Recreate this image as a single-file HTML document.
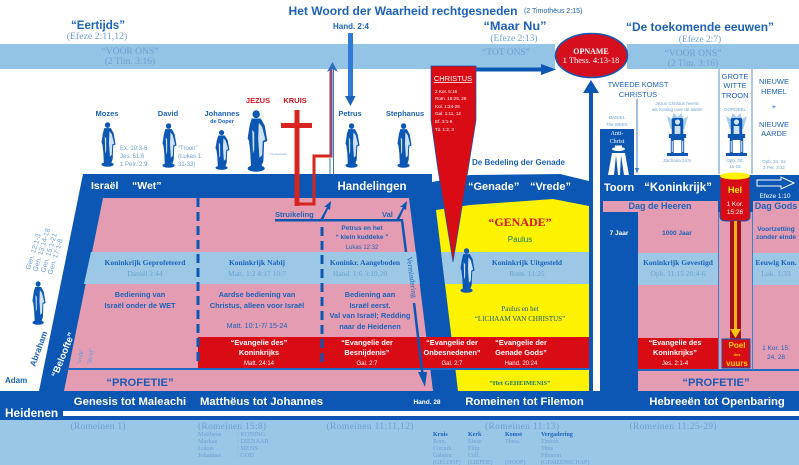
<!DOCTYPE html>
<html><head><meta charset="utf-8"><style>
html,body{margin:0;padding:0;background:#fff;width:799px;height:465px;overflow:hidden}
svg{display:block}
text{font-family:"Liberation Sans",sans-serif}
.s{font-family:"Liberation Serif",serif}
.b{font-weight:bold}
.m{text-anchor:middle}
.w{fill:#fff}
.t{fill:#1c62b9}
.l{fill:#6d9fd0}
</style></head><body>
<svg width="799" height="465" viewBox="0 0 799 465" xmlns="http://www.w3.org/2000/svg">
<defs>
<symbol id="st" viewBox="0 0 16 44" preserveAspectRatio="none">
<ellipse cx="7" cy="41.5" rx="6.5" ry="2.3" fill="#0b57b3"/>
<circle cx="7" cy="3" r="2.8" fill="#0b57b3"/>
<path d="M3.5 6 L10.5 6 L13.5 11 L15.5 22 L13 23 L12.5 36 L11 40 L3 40 L2.5 30 L1.5 22 L0.5 20 L2 11Z" fill="#0b57b3"/>
<path d="M9 9 L11.5 12 L14 21 L12 22 L11.5 32 L9.5 34 L8.5 20Z M4 14 L5.5 16 L5.5 28 L4.5 31Z" fill="#cfe2f5"/>
</symbol>
<symbol id="th" viewBox="0 0 24 44" preserveAspectRatio="none">
<path d="M5 16 L1 3 L6 6 L8 0 L12 4 L16 0 L18 6 L23 3 L19 16Z" fill="#a9cdec"/>
<rect x="6" y="5" width="12" height="20" rx="2" fill="#0b57b3"/>
<circle cx="12" cy="9" r="2.6" fill="#d7e6f5"/>
<path d="M9 13 H15 V23 H9Z" fill="#cfe2f5"/>
<path d="M3 21 H21 V25 H19 V40 H16 V27 H8 V40 H5 V25 H3Z" fill="#0b57b3"/>
<path d="M6 28 H7 V39 H6Z M17 28 H18 V39 H17Z" fill="#fff"/>
<rect x="1" y="40" width="22" height="3" fill="#0b57b3"/>
</symbol>
</defs>

<rect width="799" height="465" fill="#fff"/>
<!-- top band -->
<rect x="0" y="44" width="799" height="25" fill="#93c4e5"/>
<rect x="555" y="44" width="72" height="26" fill="#fff"/>

<!-- main left block -->
<polygon points="83,174 432,174 432,182 448,315 458,391 39,391" fill="#0b57b3"/>
<polygon points="103,198 409,198 433,391 64,391" fill="#e49cb2"/>
<!-- genade -->
<polygon points="432,182 470,175 560,174 589,181 593,181 593,391 440,391 432,200" fill="#0b57b3"/>
<polygon points="436,210 470,205 553,199 589,206 589,391 458,391" fill="#fdf200"/>
<rect x="593" y="176" width="7" height="216" fill="#fff"/>

<!-- right block -->
<rect x="600" y="129" width="34" height="46" fill="#0b57b3"/>
<rect x="600" y="175" width="199" height="216" fill="#0b57b3"/>
<rect x="603" y="201" width="115" height="11" fill="#e49cb2"/>
<rect x="753" y="201" width="46" height="11" fill="#e49cb2"/>
<rect x="638" y="212" width="80" height="158" fill="#e49cb2"/>
<rect x="719" y="212" width="33" height="158" fill="#e49cb2"/>
<rect x="753" y="212" width="46" height="158" fill="#e49cb2"/>
<rect x="638" y="370" width="161" height="21" fill="#e49cb2"/>

<!-- light blue row -->
<polygon points="91,252 416,252 420,284 84,284" fill="#9cc8e6"/>
<polygon points="441,252 589,252 589,284 445,284" fill="#9cc8e6"/>
<rect x="638" y="253" width="80" height="32" fill="#9cc8e6"/>
<rect x="753" y="253" width="46" height="32" fill="#9cc8e6"/>

<!-- red rows -->
<rect x="198" y="337" width="391" height="31" fill="#d90b14"/>
<rect x="638" y="338" width="80" height="31" fill="#d90b14"/>
<rect x="68" y="368" width="521" height="2" fill="#1c6ac4"/>
<rect x="638" y="369" width="161" height="2" fill="#1c6ac4"/>

<!-- dashes -->
<line x1="198" y1="198" x2="198" y2="361" stroke="#0b57b3" stroke-width="3" stroke-dasharray="9 5"/>
<line x1="322" y1="227" x2="322" y2="362" stroke="#0b57b3" stroke-width="3" stroke-dasharray="9 5"/>

<!-- bottom bands -->
<rect x="0" y="391" width="799" height="29" fill="#0b57b3"/>
<rect x="63" y="411" width="736" height="5" fill="#fff"/>
<rect x="0" y="420" width="799" height="45" fill="#9ac7e8"/>

<!-- verticals top -->
<line x1="719" y1="69" x2="719" y2="174" stroke="#5b93d2" stroke-width="1"/>
<line x1="752" y1="69" x2="752" y2="174" stroke="#5b93d2" stroke-width="1"/>
<line x1="718.5" y1="212" x2="718.5" y2="370" stroke="#3f7fc9" stroke-width="1"/>
<line x1="752.5" y1="212" x2="752.5" y2="370" stroke="#3f7fc9" stroke-width="1"/>
<line x1="637" y1="99" x2="637" y2="172" stroke="#3f7fc9" stroke-width="1"/>
<polygon points="635,168 639,168 637,174" fill="#3f7fc9"/>

<!-- Hel column -->
<path d="M720 176 H750 V216 Q750 221 744 221 H726 Q720 221 720 216Z" fill="#d90b14" stroke="#0b57b3"/>
<ellipse cx="735" cy="176" rx="15" ry="3.5" fill="#fdf200"/>
<rect x="730" y="221" width="11" height="118" fill="#a80f1a"/>
<rect x="734" y="221" width="3" height="110" fill="#f6b50c"/>
<polygon points="730,329 741,329 735.5,338" fill="#f6c50c"/>
<rect x="722" y="339" width="28" height="29" fill="#d90b14" stroke="#0b57b3"/>

<!-- red Christus -->
<polygon points="431,66 476,66 476,120 468,170 453,262 438,170 431,120" fill="#d90b14" stroke="#0b57b3" stroke-width="0.7"/>
<!-- arrow to opname -->
<rect x="476" y="67.5" width="66" height="4" fill="#0b57b3"/>
<polygon points="541,64 556,69.5 541,75" fill="#0b57b3"/>
<!-- arrow up to opname -->
<rect x="589" y="92" width="4" height="90" fill="#0b57b3"/>
<polygon points="583,93 599,93 591,80" fill="#0b57b3"/>
<ellipse cx="591.5" cy="55.5" rx="36" ry="22" fill="#d50f1e" stroke="#1359b5" stroke-width="1.5"/>

<!-- Hand 2:4 arrow -->
<rect x="348" y="33" width="5" height="64" fill="#2f7ad6"/>
<polygon points="345,96 355.5,96 350.5,106" fill="#1c62b9"/>

<!-- cross + red path -->
<rect x="294.5" y="110" width="5" height="96" fill="#d8241e"/>
<rect x="281" y="123" width="31" height="5" fill="#d8241e"/>
<path d="M297 204 H314 V156 H331 V68" fill="none" stroke="#d8241e" stroke-width="3"/>
<path d="M331 156 V68" fill="none" stroke="#8d4a6b" stroke-width="3"/>
<line x1="333.5" y1="68" x2="333.5" y2="174" stroke="#0b57b3" stroke-width="0.8"/>
<line x1="330" y1="158" x2="330" y2="174" stroke="#0b57b3" stroke-width="0.8"/>
<polygon points="327,72 332.5,62 338,72 332.5,69" fill="#2f6fc0"/>

<!-- struikeling line & arrows -->
<rect x="275" y="219" width="128" height="2.5" fill="#0b57b3"/>
<path d="M320 220 L327 207 L324 207 L331 201 L330 210 L328 209 L323 220Z" fill="#0b57b3"/>
<path d="M396 220 L403 207 L400 207 L407 201 L406 210 L404 209 L399 220Z" fill="#0b57b3"/>
<line x1="402" y1="220" x2="406" y2="252" stroke="#0b57b3" stroke-width="2.5"/>
<line x1="414" y1="303" x2="423" y2="378" stroke="#0b57b3" stroke-width="2.5"/>
<polygon points="418,372 427,372 425,387" fill="#0b57b3"/>

<!-- statues -->
<use href="#st" x="101" y="122" width="15" height="45"/>
<use href="#st" x="162" y="123" width="15" height="45"/>
<use href="#st" x="215" y="130" width="15" height="40"/>
<use href="#st" x="247" y="110" width="21" height="62"/>
<use href="#st" x="345" y="123" width="15" height="45"/>
<use href="#st" x="397" y="123" width="15" height="45"/>
<use href="#st" x="32" y="281" width="14" height="44"/>
<use href="#st" x="460" y="248" width="15" height="45"/>
<use href="#th" x="666" y="113" width="23" height="44"/>
<use href="#th" x="725" y="113" width="23" height="44"/>
<!-- anti-christ figure -->
<ellipse cx="618.5" cy="149" rx="6.5" ry="2" fill="#fff"/>
<rect x="615" y="145.5" width="7" height="3.5" fill="#fff"/>
<path d="M612 153 H625 L629 175 H608Z" fill="#fff"/>
<path d="M616 155 L618 175 H614Z M621 155 L624 175 H620Z" fill="#0b57b3"/>

<!-- Big outline arrow -->
<polygon points="757,180 781,180 781,177 794,183 781,189 781,186 757,186" fill="#0b57b3" stroke="#fff" stroke-width="1"/>

<!-- Top text -->
<text x="403" y="15" class="b m t" font-size="12" textLength="229" lengthAdjust="spacingAndGlyphs">Het Woord der Waarheid rechtgesneden</text>
<text x="524" y="13" class="t" font-size="7">(2 Timothëus 2:15)</text>
<text x="98" y="29" class="b m t" font-size="12" textLength="54" lengthAdjust="spacingAndGlyphs">“Eertijds”</text>
<text x="97" y="39" class="s m l" font-size="9.8">(Efeze 2:11,12)</text>
<text x="130" y="54" class="s m l" font-size="9.5">“VOOR ONS”</text>
<text x="130" y="64" class="s m l" font-size="9.5">(2 Tim. 3:16)</text>
<text x="351" y="29" class="b m t" font-size="8">Hand. 2:4</text>
<text x="515" y="30" class="b m t" font-size="12" textLength="63" lengthAdjust="spacingAndGlyphs">“Maar Nu”</text>
<text x="514" y="41" class="s m l" font-size="9.5">(Efeze 2:13)</text>
<text x="506" y="55" class="s m l" font-size="9.5">“TOT ONS”</text>
<text x="591" y="54" class="s b m w" font-size="8">OPNAME</text>
<text x="591" y="63" class="s m w" font-size="8.5">1 Thess. 4:13-18</text>
<text x="700" y="31" class="b m t" font-size="12" textLength="148" lengthAdjust="spacingAndGlyphs">“De toekomende eeuwen”</text>
<text x="700" y="42" class="s m l" font-size="9.5">(Efeze 2:7)</text>
<text x="693" y="56" class="s m l" font-size="9.5">“VOOR ONS”</text>
<text x="693" y="66" class="s m l" font-size="9.5">(2 Tim. 3:16)</text>

<g class="t" font-size="7.5">
<text x="735" y="79" class="m t" >GROTE</text><text x="735" y="88" class="m t">WITTE</text><text x="735" y="98" class="m t">TROON</text>
<text x="774" y="84" class="m t">NIEUWE</text><text x="774" y="94" class="m t">HEMEL</text><text x="774" y="109" class="m t">+</text>
<text x="774" y="127" class="m t">NIEUWE</text><text x="774" y="136" class="m t">AARDE</text>
<text x="638" y="87" class="m t">TWEEDE KOMST</text><text x="638" y="97" class="m t">CHRISTUS</text>
</g>
<text x="774" y="163" class="m l" font-size="4.5">Opb. 21; 22</text>
<text x="774" y="169" class="m l" font-size="4.5">2 Pet. 3:12</text>
<text x="677" y="105" class="m l" font-size="4.5">Jezus Christus heerst</text>
<text x="677" y="111" class="m l" font-size="4.5">als Koning over de aarde</text>
<text x="617" y="119" class="m l" font-size="4.5">DANIEL</text>
<text x="617" y="126" class="m l" font-size="4.5">70e WEEK</text>
<text x="617" y="135" class="s m w" font-size="6">Anti-</text>
<text x="617" y="143" class="s m w" font-size="6">Christ</text>
<text x="735" y="111" class="m l" font-size="4.5">OORDEEL</text>
<text x="677" y="162" class="m l" font-size="4.5">Zacharia 14:9</text>
<text x="735" y="162" class="m l" font-size="4.5">Opb. 20:</text>
<text x="735" y="168" class="m l" font-size="4.5">11-15</text>

<text x="472" y="165" class="b t" font-size="8" textLength="93" lengthAdjust="spacingAndGlyphs">De Bedeling der Genade</text>
<text x="453" y="81" class="m w" font-size="7.5" text-decoration="underline">CHRISTUS</text>
<g font-size="4.6">
<text x="435" y="93" class="w">2 Kor. 5:16</text>
<text x="435" y="100" class="w">Rom. 16:25, 26</text>
<text x="435" y="108" class="w">Kol. 1:24-26</text>
<text x="435" y="115" class="w">Gal. 1:11, 12</text>
<text x="435" y="123" class="w">Ef. 3:1-9</text>
<text x="435" y="131" class="w">Tit. 1:2, 3</text>
</g>

<!-- names -->
<g font-size="7.5" font-weight="bold">
<text x="107" y="116" class="m t">Mozes</text>
<text x="168" y="116" class="m t">David</text>
<text x="222" y="116" class="m t">Johannes</text>
<text x="350" y="116" class="m t">Petrus</text>
<text x="405" y="116" class="m t">Stephanus</text>
<text x="258" y="103" class="m" fill="#d8141c">JEZUS</text>
<text x="295" y="103" class="m" fill="#d8141c">KRUIS</text>
</g>
<text x="222" y="123" class="b m t" font-size="5.5">de Doper</text>
<g font-size="6">
<text x="120" y="150" class="l">Ex. 19:3-6</text><text x="120" y="158" class="l">Jes. 61:6</text><text x="120" y="166" class="l">1 Petr. 2:9</text>
<text x="178" y="150" class="l">“Troon”</text><text x="178" y="158" class="l">(Lukas 1:</text><text x="178" y="166" class="l">31-33)</text>
</g>
<text x="270" y="155" class="l" font-size="3">11 Apostelen</text>

<!-- bars -->
<g font-weight="bold" font-size="10.5">
<text x="91" y="189" class="w">Israël</text>
<text x="132" y="189" class="w">“Wet”</text>
<text x="372" y="190" class="m w" font-size="11.5">Handelingen</text>
<text x="468" y="190" class="w" font-size="11">“Genade”</text>
<text x="530" y="190" class="w" font-size="11">“Vrede”</text>
<text x="619" y="191" class="m w" font-size="11">Toorn</text>
<text x="678" y="191" class="m w" font-size="11.5">“Koninkrijk”</text>
</g>
<text x="735" y="193" class="b m" fill="#fdf200" font-size="9">Hel</text>
<text x="735" y="206" class="m w" font-size="6.5">1 Kor.</text>
<text x="735" y="214" class="m w" font-size="6.5">15:26</text>
<text x="775" y="198" class="m w" font-size="6.5">Efeze 1:10</text>
<text x="660" y="209" class="b m t" font-size="9">Dag de Heeren</text>
<text x="776" y="209" class="b m t" font-size="9">Dag Gods</text>
<text x="275" y="217" class="b t" font-size="7.5">Struikeling</text>
<text x="382" y="217" class="b t" font-size="7.5">Val</text>
<text x="362" y="230" class="b m t" font-size="6.5">Petrus en het</text>
<text x="362" y="239" class="b m t" font-size="6.5">“ klein kuddeke ”</text>
<text x="362" y="249" class="m t" font-size="6">Lukas 12:32</text>
<text transform="translate(407,257) rotate(83)" class="s t" font-size="7.5">Vermindering</text>

<!-- row texts -->
<g font-size="7.5" font-weight="bold">
<text x="145" y="265" class="s m t">Koninkrijk Geprofeteerd</text>
<text x="257" y="265" class="s m t">Koninkrijk Nabij</text>
<text x="365" y="265" class="s m t">Koninkr. Aangeboden</text>
<text x="527" y="265" class="s m t">Koninkrijk Uitgesteld</text>
<text x="678" y="265" class="s m t">Koninkrijk Gevestigd</text>
<text x="776" y="265" class="s m t">Eeuwig Kon.</text>
</g>
<g font-size="7.5">
<text x="145" y="276" class="s m l">Daniël 2:44</text>
<text x="257" y="276" class="s m l">Matt. 1:2  4:17  10:7</text>
<text x="360" y="276" class="s m l">Hand. 1:6  3:19,20</text>
<text x="527" y="276" class="s m l">Rom. 11:25</text>
<text x="678" y="276" class="s m l">Opb. 11:15  20:4-6</text>
<text x="776" y="276" class="s m l">Luk. 1:33</text>
</g>
<text x="619" y="235" class="b m w" font-size="6.5">7 Jaar</text>
<text x="677" y="235" class="b m t" font-size="6.5">1000 Jaar</text>
<text x="776" y="231" class="b m t" font-size="6.5">Voortzetting</text>
<text x="776" y="239" class="b m t" font-size="6.5">zonder einde</text>
<text x="520" y="226" class="s b m" fill="#d8141c" font-size="12">“GENADE”</text>
<text x="520" y="242" class="m" fill="#1a7a6a" font-size="8">Paulus</text>

<g font-size="7.4" font-weight="bold">
<text x="140" y="297" class="m t">Bediening van</text>
<text x="140" y="308" class="m t">Israël onder de WET</text>
<text x="257" y="297" class="m t">Aardse bediening van</text>
<text x="257" y="308" class="m t">Christus, alleen voor Israël</text>
<text x="370" y="297" class="m t">Bediening aan</text>
<text x="370" y="308" class="m t">Israël eerst.</text>
<text x="370" y="318" class="m t">Val van Israël; Redding</text>
<text x="370" y="329" class="m t">naar de Heidenen</text>
</g>
<text x="257" y="328" class="m t" font-size="7.2">Matt. 10:1-7/  15-24</text>
<text x="520" y="311" class="s m" fill="#1a5a7a" font-size="7">Paulus en het</text>
<text x="520" y="321" class="s m" fill="#1a5a7a" font-size="7">“LICHAAM VAN CHRISTUS”</text>

<!-- red texts -->
<g font-size="7.4" font-weight="bold">
<text x="259" y="345" class="m w">“Evangelie des”</text><text x="259" y="355" class="m w">Koninkrijks</text>
<text x="367" y="345" class="m w">“Evangelie der</text><text x="367" y="355" class="m w">Besnijdenis”</text>
<text x="452" y="345" class="m w">“Evangelie der</text><text x="452" y="355" class="m w">Onbesnedenen”</text>
<text x="521" y="345" class="m w">“Evangelie der</text><text x="521" y="355" class="m w">Genade Gods”</text>
<text x="675" y="345" class="m w">“Evangelie des</text><text x="675" y="355" class="m w">Koninkrijks”</text>
</g>
<g font-size="6">
<text x="259" y="365" class="m w">Matt. 24:14</text>
<text x="367" y="365" class="m w">Gal. 2:7</text>
<text x="452" y="365" class="m w">Gal. 2:7</text>
<text x="521" y="365" class="m w">Hand. 20:24</text>
<text x="675" y="365" class="m w">Jes. 2:1-4</text>
</g>
<text x="737" y="348" class="b m" fill="#fdd000" font-size="8">Poel</text>
<text x="737" y="356" class="b m" fill="#fdd000" font-size="4">des</text>
<text x="737" y="366" class="b m" fill="#fdd000" font-size="8">vuurs</text>
<text x="776" y="350" class="m t" font-size="6.5">1 Kor. 15:</text>
<text x="776" y="359" class="m t" font-size="6.5">24, 28</text>

<text transform="translate(57,378) rotate(-68)" class="b w" font-size="9.5">“Beloofte”</text>
<text transform="translate(81,365) rotate(-80)" class="l" font-size="6.5">“volk”</text>
<text transform="translate(91,365) rotate(-80)" class="l" font-size="6.5">“land”</text>
<text transform="translate(35,367) rotate(-70)" class="b t" font-size="8.5">Abraham</text>
<text x="5" y="383" class="b t" font-size="8">Adam</text>
<text x="140" y="386" class="b m" fill="#1c5bb5" font-size="11.2">“PROFETIE”</text>
<text x="716" y="386" class="b m" fill="#1c5bb5" font-size="11.2">“PROFETIE”</text>
<text x="520" y="385" class="s b m" fill="#1a7a6a" font-size="6.5">“Het GEHEIMENIS”</text>

<g font-size="7">
<text transform="translate(30,270) rotate(-73)" class="l">Gen. 12:1-3</text>
<text transform="translate(37,272) rotate(-73)" class="l">Gen. 13:14-18</text>
<text transform="translate(45,273) rotate(-73)" class="l">Gen. 15:1-21</text>
<text transform="translate(52,275) rotate(-73)" class="l">Gen. 17:1-8</text>
</g>

<!-- bottom band text -->
<g font-weight="bold" font-size="11.3">
<text x="130" y="405" class="m w">Genesis tot Maleachi</text>
<text x="261.5" y="405" class="m w">Matthëus tot Johannes</text>
<text x="524.5" y="405" class="m w">Romeinen tot Filemon</text>
<text x="717" y="405" class="m w">Hebreeën tot Openbaring</text>
<text x="5" y="417" class="w" font-size="11.8">Heidenen</text>
</g>
<text x="427" y="404" class="b m w" font-size="6.5">Hand. 28</text>

<!-- lower -->
<g font-size="9.5">
<text x="98" y="429" class="s m l" textLength="55">(Romeinen 1)</text>
<text x="232" y="429" class="s m l" textLength="68">(Romeinen 15:8)</text>
<text x="370" y="429" class="s m l" textLength="87">(Romeinen 11:11,12)</text>
<text x="522" y="429" class="s m l" textLength="74">(Romeinen 11:13)</text>
<text x="673" y="429" class="s m l" textLength="87">(Romeinen 11:25-29)</text>
</g>
<g font-size="6.3">
<text x="198" y="436" class="s l">Mattheus</text><text x="237" y="436" class="s l">: KONING</text>
<text x="198" y="443" class="s l">Markus</text><text x="237" y="443" class="s l">: DIENAAR</text>
<text x="198" y="450" class="s l">Lukas</text><text x="237" y="450" class="s l">: MENS</text>
<text x="198" y="457" class="s l">Johannes</text><text x="237" y="457" class="s l">: GOD</text>
</g>
<g font-size="6">
<text x="433" y="436" class="s b t">Kruis</text><text x="433" y="443" class="s l">Rom.</text><text x="433" y="450" class="s l">Corinth.</text><text x="433" y="457" class="s l">Galaten</text><text x="433" y="464" class="s l">(GELOOF)</text>
<text x="468" y="436" class="s b t">Kerk</text><text x="468" y="443" class="s l">Efeze</text><text x="468" y="450" class="s l">Filip.</text><text x="468" y="457" class="s l">Coll.</text><text x="468" y="464" class="s l">(LIEFDE)</text>
<text x="505" y="436" class="s b t">Komst</text><text x="505" y="443" class="s l">Thess.</text><text x="505" y="464" class="s l">(HOOP)</text>
<text x="541" y="436" class="s b t">Vergadering</text><text x="541" y="443" class="s l">Timoth.</text><text x="541" y="450" class="s l">Titus</text><text x="541" y="457" class="s l">Filemon</text><text x="541" y="464" class="s l">(GEMEENSCHAP)</text>
</g>
</svg>
</body></html>
